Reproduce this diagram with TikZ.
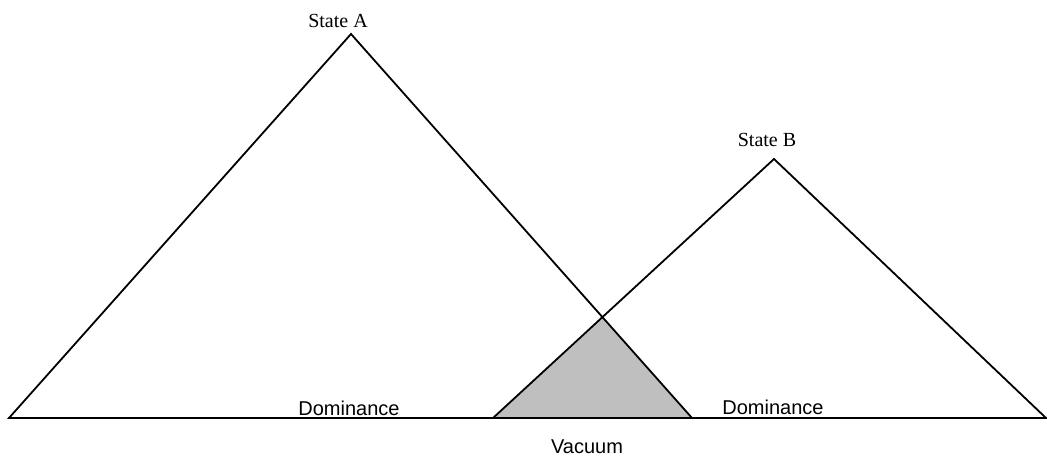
\documentclass[tikz,border=0pt]{standalone}
\usepackage{fontspec}
\setmainfont{Liberation Serif}
\newfontfamily\arialfont{Liberation Sans}
\usetikzlibrary{positioning, calc}

\begin{document}
\begin{tikzpicture}[x=0.5pt, y=-0.5pt,
		side/.style={line width=0.9pt, line join=miter},
		statelbl/.style={font=\fontsize{10}{12}\selectfont, inner sep=0pt},
		arealbl/.style={font=\arialfont\fontsize{10}{12}\selectfont, inner sep=0pt}]
	
	\useasboundingbox (0, 0) rectangle (1047, 464);
	
	% State A
	\coordinate (a1) at (9, 418);
	\coordinate (a2) at (351, 34);
	\coordinate (a3) at (692, 418);
	\node[statelbl] (lblA) at (338, 21) {State A};
	
	% State B
	\coordinate (b1) at (493, 418);
	\coordinate (b2) at (774, 159);
	\coordinate (b3) at (1046, 418);
	\node[statelbl] (lblB) at (767, 140) {State B};
	
	% Vacuum
	\coordinate (v) at (intersection of a2--a3 and b1--b2);
	\fill[black!25] (b1) -- (v) -- (a3) -- cycle;
	
	\draw[side] (a1) -- (a2) -- (a3) -- cycle;
	\draw[side] (b1) -- (b2) -- (b3) -- cycle;
	
	\node[arealbl] (domA) at (349, 408) {Dominance};
	\node[arealbl] (domB) at (773, 407) {Dominance};
	\node[arealbl] (vac) at (587, 447) {Vacuum};
	
\end{tikzpicture}
\end{document}
